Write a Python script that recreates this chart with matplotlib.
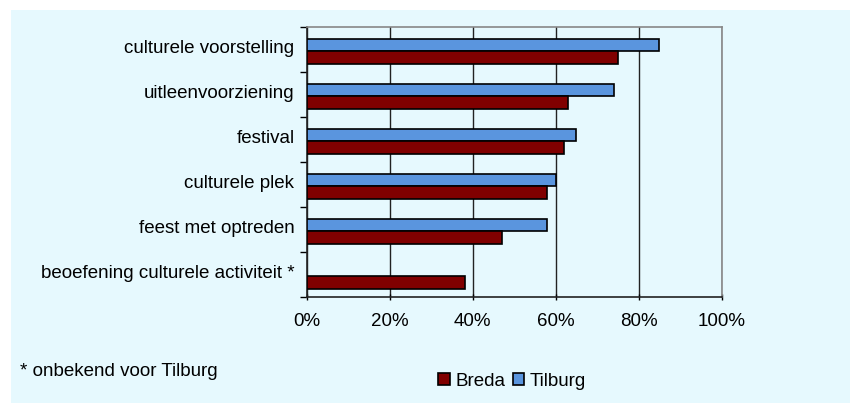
import matplotlib
matplotlib.use("Agg")
import matplotlib.pyplot as plt
from matplotlib.patches import Rectangle
import numpy as np

categories = [
    "culturele voorstelling",
    "uitleenvoorziening",
    "festival",
    "culturele plek",
    "feest met optreden",
    "beoefening culturele activiteit *",
]
breda = [75, 63, 62, 58, 47, 38]
tilburg = [85, 74, 65, 60, 58, np.nan]
xticks = [0, 20, 40, 60, 80, 100]
xticklabels = ["0%", "20%", "40%", "60%", "80%", "100%"]

plt.rcParams["font.family"] = ["Liberation Sans", "DejaVu Sans"]

BG = "#E6F9FE"
RED = "#800000"
BLUE = "#5A95DE"
FS = 13.5

fig = plt.figure(figsize=(8.5, 4.03), dpi=100)
fig.patch.set_facecolor("white")
fig.patches.append(Rectangle((11 / 850, 0), 1 - 11 / 850, 1 - 10 / 403,
                             transform=fig.transFigure, facecolor=BG,
                             edgecolor="none", zorder=-10))

ax = fig.add_axes([307 / 850, 1 - 297.3 / 403, (721.5 - 307) / 850, (297.3 - 27.3) / 403])
ax.set_facecolor(BG)

n = len(categories)
y = np.arange(n)
h = 0.275
off = 0.03
ax.barh(y - h / 2 + off, tilburg, height=h, color=BLUE, edgecolor="black",
        linewidth=1.2, label="Tilburg", zorder=3)
ax.barh(y + h / 2 + off, breda, height=h, color=RED, edgecolor="black",
        linewidth=1.2, label="Breda", zorder=3)

ax.set_xlim(0, 100)
ax.set_ylim(n - 0.5, -0.5)
ax.set_xticks(xticks)
ax.set_xticklabels(xticklabels, fontsize=FS)
ax.set_yticks(np.arange(n + 1) - 0.5, minor=False)
ax.set_yticklabels([])
ax.set_yticks(y - 0.08, minor=True)
ax.set_yticklabels(categories, minor=True, fontsize=FS)
ax.tick_params(axis="y", which="minor", length=0, pad=9)
ax.tick_params(axis="y", which="major", length=5, direction="out", width=1)
ax.tick_params(axis="x", length=5, direction="inout", width=1, pad=9)

ax.grid(axis="x", color="#222222", linewidth=1, zorder=1)
for s in ("top", "right"):
    ax.spines[s].set_color("#888888")
    ax.spines[s].set_linewidth(1.2)
for s in ("left", "bottom"):
    ax.spines[s].set_color("#222222")
    ax.spines[s].set_linewidth(1.2)

fig.text(20 / 850, 1 - 372 / 403, "* onbekend voor Tilburg", fontsize=FS,
         va="center", ha="left")

handles, labels = ax.get_legend_handles_labels()
leg = fig.legend(handles[::-1], labels[::-1], loc="center",
                 bbox_to_anchor=(512 / 850, 1 - 381 / 403), ncol=2,
                 frameon=False, fontsize=FS, handlelength=0.6, handleheight=0.6,
                 handletextpad=0.3, columnspacing=0.4, borderpad=0)

fig.savefig("out.png", dpi=100, facecolor=fig.get_facecolor())
